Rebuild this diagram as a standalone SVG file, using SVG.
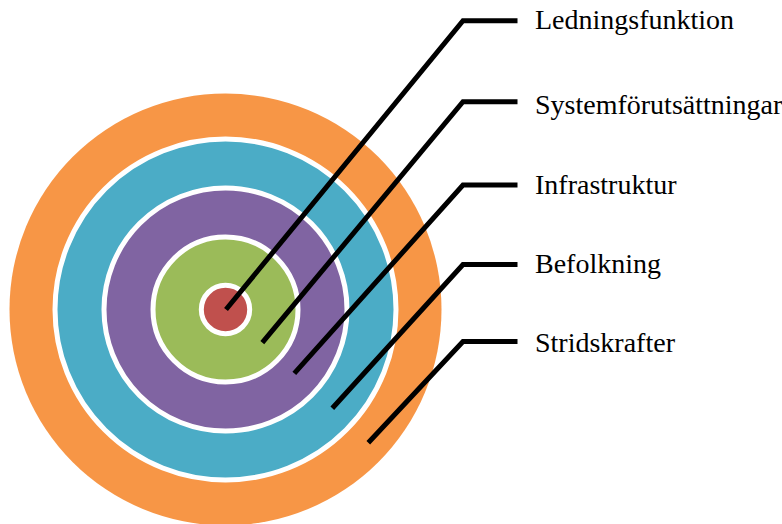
<svg xmlns="http://www.w3.org/2000/svg" width="782" height="524" viewBox="0 0 782 524">
<style>
.ring{stroke:#FFFFFF;stroke-width:5}
.conn{fill:none;stroke:#000000;stroke-width:5;stroke-linejoin:miter}
.lbl{font-family:"Liberation Serif","Times New Roman",serif;font-size:28px;fill:#000000}
</style>
<rect width="782" height="524" fill="#FFFFFF"/>
<g id="stridskrafter-ring"><circle cx="225.5" cy="309.5" r="216" fill="#F79646"/></g>
<g id="befolkning-ring"><circle class="ring" cx="225.5" cy="309.5" r="170.5" fill="#4BACC6"/></g>
<g id="infrastruktur-ring"><circle class="ring" cx="225.5" cy="309.5" r="121.5" fill="#8064A2"/></g>
<g id="systemforutsattningar-ring"><circle class="ring" cx="225.5" cy="309.5" r="72.5" fill="#9BBB59"/></g>
<g id="ledningsfunktion-ring"><circle class="ring" cx="225.5" cy="309.5" r="24.2" fill="#C0504D"/></g>
<g id="connectors">
<polyline class="conn" points="226,309.5 463,20.7 517.5,20.7"/>
<polyline class="conn" points="262.3,342.7 463,101.7 517.5,101.7"/>
<polyline class="conn" points="294.3,373.3 463,185 517.5,185"/>
<polyline class="conn" points="332.3,408.3 463,264.5 517.5,264.5"/>
<polyline class="conn" points="368.3,442.7 463,341.5 517.5,341.5"/>
</g>
<g id="labels">
<text class="lbl" x="535" y="29">Ledningsfunktion</text>
<text class="lbl" x="535" y="113.5">Systemförutsättningar</text>
<text class="lbl" x="535" y="194">Infrastruktur</text>
<text class="lbl" x="535" y="273.3">Befolkning</text>
<text class="lbl" x="535" y="352">Stridskrafter</text>
</g>
</svg>
